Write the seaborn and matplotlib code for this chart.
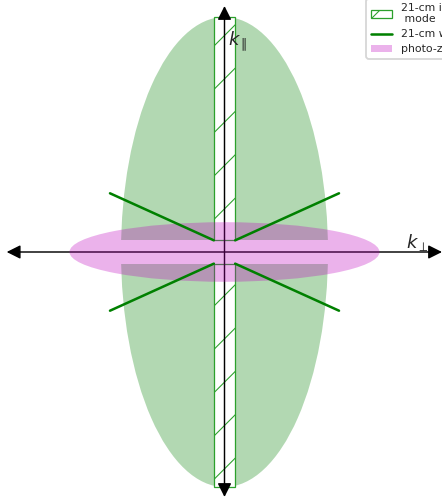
import numpy as np
import pandas as pd
import matplotlib
matplotlib.use("Agg")
import matplotlib.pyplot as plt
import seaborn as sns
from matplotlib.patches import Ellipse, Rectangle, Patch
from matplotlib.lines import Line2D

sns.set_theme(style="white")
plt.rcParams['font.family'] = ['DejaVu Sans']
plt.rcParams['hatch.linewidth'] = 0.6

# ---- data (arbitrary k units, centre at origin) ----
green_ellipse_size = [20.7, 47.0]      # width (k_perp), height (k_par)
photoz_ellipse_size = [31.0, 5.96]
strip_halfwidth = 1.065                 # inaccessible low-k_perp strip
strip_top = 23.5
band_halfheight = 1.165                 # removed low-k_par band
wedge_kperp = [1.065, 11.45]
wedge_kpar = [1.165, 5.87]
axis_kperp = [-21.78, 21.75]
axis_kpar = [-24.5, 24.6]
legend_labels = ["21-cm inaccessible\n mode", "21-cm wedge", "photo-z error"]

MAGENTA = "#bf00bf"
DPI = 130
fig = plt.figure(figsize=(442 / DPI, 498 / DPI), dpi=DPI)
ax = fig.add_axes([0, 0, 1, 1])

# green 21-cm ellipse
ax.add_patch(Ellipse((0, 0), green_ellipse_size[0], green_ellipse_size[1],
                     facecolor="green", alpha=0.3, edgecolor="none", zorder=1))
# removed band near k_par = 0
ax.add_patch(Rectangle((-green_ellipse_size[0] / 2 - 0.5, -band_halfheight),
                       green_ellipse_size[0] + 1, 2 * band_halfheight,
                       facecolor="white", edgecolor="none", zorder=1.5))
# hatched strips
for y0, h in [(band_halfheight, strip_top - band_halfheight),
              (-strip_top, strip_top - band_halfheight)]:
    ax.add_patch(Rectangle((-strip_halfwidth, y0), 2 * strip_halfwidth, h,
                           facecolor="white", edgecolor="tab:green",
                           hatch="/", lw=0.7, zorder=2))

# axes with arrows
arrow_kw = dict(arrowstyle="<|-|>", color="black", lw=0.8,
                mutation_scale=16, shrinkA=0, shrinkB=0)
ax.annotate("", xy=(axis_kperp[1], 0), xytext=(axis_kperp[0], 0),
            arrowprops=arrow_kw, zorder=3)
ax.annotate("", xy=(0, axis_kpar[1]), xytext=(0, axis_kpar[0]),
            arrowprops=arrow_kw, zorder=3)

# photo-z ellipse
ax.add_patch(Ellipse((0, 0), photoz_ellipse_size[0], photoz_ellipse_size[1],
                     facecolor=MAGENTA, alpha=0.3, edgecolor="none", zorder=5))

# wedge lines (on top)
rows = []
seg = 0
for sx in (-1, 1):
    for sy in (-1, 1):
        for kp, kl in zip(wedge_kperp, wedge_kpar):
            rows.append(dict(kperp=sx * kp, kpar=sy * kl, seg=seg))
        seg += 1
df = pd.DataFrame(rows)
sns.lineplot(data=df, x="kperp", y="kpar", units="seg", estimator=None,
             sort=False, color="green", lw=1.4, ax=ax, zorder=6, legend=False)
ax.set_xlim(-22.45, 21.75)
ax.set_ylim(-24.6, 25.2)
ax.axis("off")

ax.text(0.35, 20.7, r"$k_\parallel$", fontsize=10, ha="left", va="baseline", zorder=7)
ax.text(18.15, 0.4, r"$k_\perp$", fontsize=10, ha="left", va="baseline", zorder=7)

handles = [Patch(facecolor="white", edgecolor="tab:green", hatch="/", lw=0.7),
           Line2D([], [], color="green", lw=1.4),
           Patch(facecolor=MAGENTA, alpha=0.3, edgecolor="none")]
ax.legend(handles, legend_labels, loc="lower left",
          bbox_to_anchor=(361 / 442, 1 - 64 / 498), bbox_transform=fig.transFigure,
          fontsize=6.0, frameon=True, labelspacing=0.45)

fig.savefig("out.png", dpi=DPI)
